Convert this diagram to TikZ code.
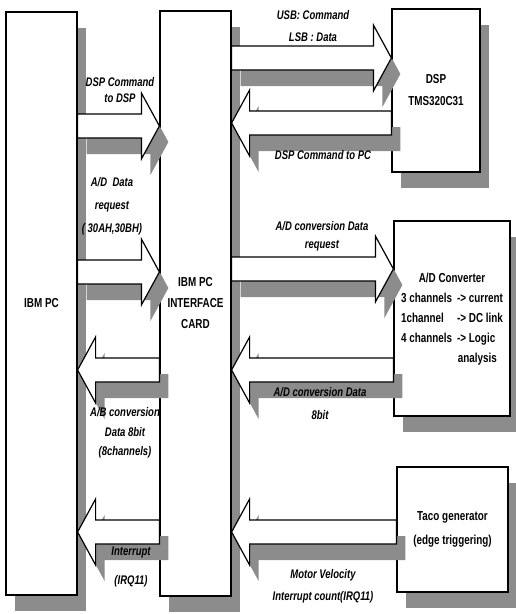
\documentclass[tikz,border=0pt]{standalone}
\usepackage{fontspec}
\setmainfont{Liberation Sans}
\newfontfamily\narrowsans{Liberation Sans}[FakeStretch=0.76]
\usetikzlibrary{calc,shadows}

\tikzset{
  dropshade/.style={drop shadow={shadow xshift=9pt, shadow yshift=-16pt, fill=black!45, opacity=1}},
  blockbox/.style={draw, line width=1.2pt, fill=white, dropshade, inner sep=0pt, align=center,
    font=\narrowsans\bfseries\fontsize{13}{#1}\selectfont},
  blockbox/.default=21,
  busarrow/.style={draw, line width=1.2pt, fill=white, dropshade, line join=miter},
  buslabel/.style={inner sep=0pt, align=center,
    font=\narrowsans\bfseries\itshape\fontsize{12.5}{#1}\selectfont},
  buslabel/.default=16
}

% hollow bus arrow from #1 (tail) to #2 (tip), both on one horizontal line
\newcommand{\blockarrow}[2]{%
  \path[busarrow] let \p1=(#1), \p2=(#2), \n1={sign(\x2-\x1)} in
    (\x1,\y1+12pt) -- ({\x2-(\n1)*18pt},\y1+12pt) -- ({\x2-(\n1)*18pt},\y1+33pt)
    -- (\x2,\y1) -- ({\x2-(\n1)*18pt},\y1-33pt) -- ({\x2-(\n1)*18pt},\y1-12pt)
    -- (\x1,\y1-12pt) -- cycle;}

\begin{document}
\begin{tikzpicture}[x=1pt, y=-1pt]
  \useasboundingbox (0,0) rectangle (516,614);

  % units
  \node[blockbox, minimum width=71pt, minimum height=583pt] (pc) at (41.5,303.5) {IBM PC};
  \node[blockbox, minimum width=71pt, minimum height=585pt] (card) at (195.5,303.5) {IBM PC\\INTERFACE\\CARD};
  \node[blockbox=22, minimum width=88pt, minimum height=163pt] (dsp) at (436,90.5) {DSP\\TMS320C31};
  \node[blockbox=20, minimum width=116pt, minimum height=195pt] (adc) at (452,318.5) {%
    \begin{tabular}{@{}l@{\hspace{5pt}}l@{}}
      \multicolumn{2}{c}{A/D Converter}\\
      3 channels & -> current\\
      1channel & -> DC link\\
      4 channels & -> Logic\\
      \multicolumn{2}{r}{analysis}
    \end{tabular}};
  \node[blockbox=24, minimum width=111pt, minimum height=125pt] (taco) at (452.5,529.5) {Taco generator\\(edge triggering)};

  % buses
  \blockarrow{pc.east |- 0,126}{card.west |- 0,126}
  \blockarrow{pc.east |- 0,272}{card.west |- 0,272}
  \blockarrow{card.west |- 0,370}{pc.east |- 0,370}
  \blockarrow{card.west |- 0,532}{pc.east |- 0,532}
  \blockarrow{card.east |- 0,58}{dsp.west |- 0,58}
  \blockarrow{dsp.west |- 0,123}{card.east |- 0,123}
  \blockarrow{card.east |- 0,269}{adc.west |- 0,269}
  \blockarrow{adc.west |- 0,370}{card.east |- 0,370}
  \blockarrow{taco.west |- 0,532}{card.east |- 0,532}

  % bus labels
  \node[buslabel] (cmddsp) at (120,90) {DSP Command\\to DSP};
  \node[buslabel=23] (adreq) at (112,206) {A/D\ \ Data\\request\\( 30AH,30BH)};
  \node[buslabel=19.5] (addata) at (125,433) {A/B conversion\\Data 8bit\\(8channels)};
  \node[buslabel=29] (irq) at (131,567) {Interrupt\\(IRQ11)};
  \node[buslabel=22] (usb) at (313,26) {USB: Command\\LSB : Data};
  \node[buslabel] (cmdpc) at (323,155) {DSP Command to PC};
  \node[buslabel=18] (convreq) at (322,236) {A/D conversion Data\\request};
  \node[buslabel=23] (convdata) at (320,404) {A/D conversion Data\\8bit};
  \node[buslabel=22] (motor) at (323,586) {Motor Velocity\\Interrupt count(IRQ11)};
\end{tikzpicture}
\end{document}
